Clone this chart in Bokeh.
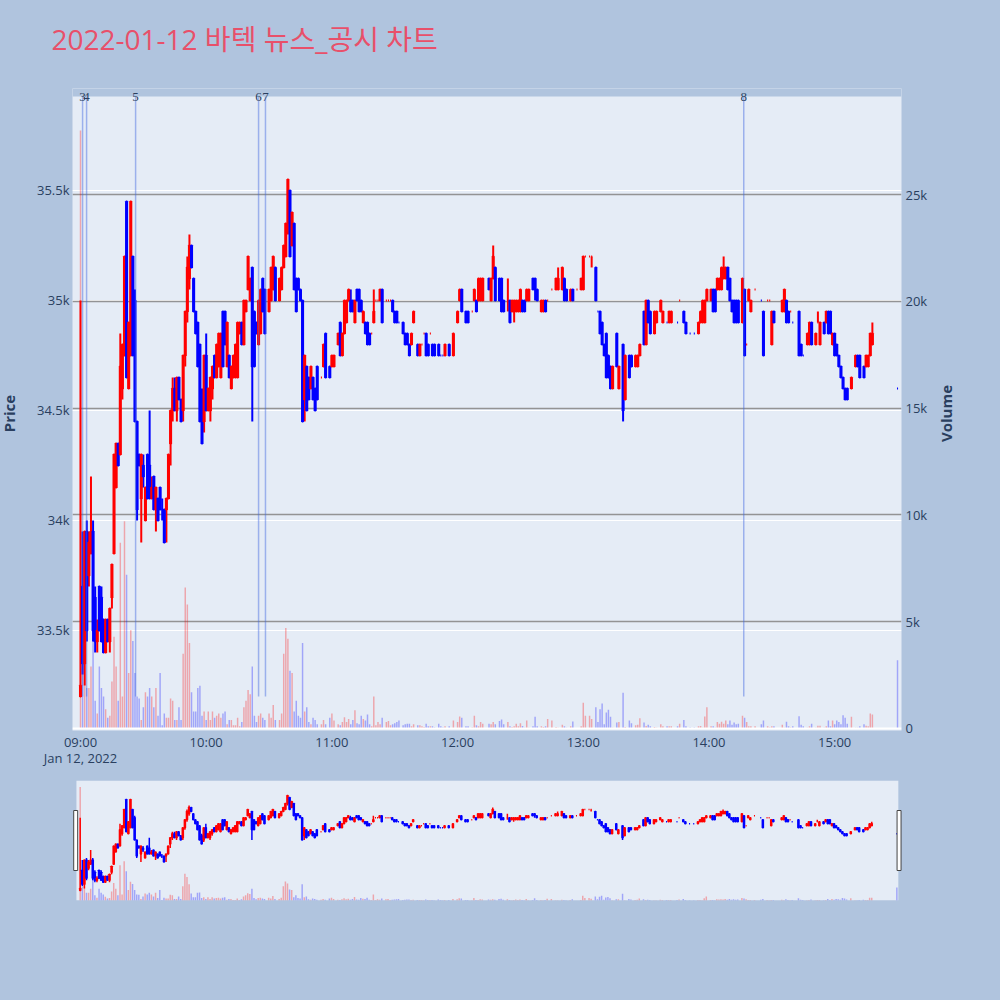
import math
from bokeh.plotting import figure
from bokeh.models import (ColumnDataSource, Range1d, LinearAxis, FixedTicker, LabelSet, Grid,
                          Span, BoxAnnotation)
from bokeh.layouts import column, row
from bokeh.embed import file_html
from bokeh.resources import INLINE
from bokeh.core.properties import value

TITLE = "2022-01-12 바텍 뉴스_공시 차트"

# minutes after 09:00
minute = [0,1,2,3,4,5,6,7,8,9,
 10,11,12,13,14,15,16,17,18,19,
 20,21,22,23,24,25,26,27,28,29,
 30,31,32,33,34,35,36,37,38,39,
 40,41,42,43,44,45,46,47,48,49,
 50,51,52,53,54,55,56,57,58,59,
 60,61,62,63,64,65,66,67,68,69,
 70,71,72,73,74,75,76,77,78,79,
 80,81,82,83,84,85,86,87,88,90,
 91,92,93,95,96,97,98,99,100,101,
 102,103,104,105,106,107,108,109,110,111,
 112,113,115,116,117,119,120,121,123,124,
 125,126,127,128,129,130,131,132,133,134,
 135,136,137,138,139,140,141,142,143,144,
 146,147,148,149,150,151,152,154,155,156,
 157,158,159,161,162,163,164,165,166,167,
 168,169,171,172,173,174,176,178,180,181,
 182,184,185,187,188,189,190,191,192,195,
 196,197,198,200,201,202,204,205,206,207,
 208,209,210,211,212,213,214,216,217,218,
 220,221,222,223,225,227,228,230,231,232,
 234,235,237,239,240,241,243,244,246,247,
 248,249,250,251,252,253,254,256,257,259,
 260,262,263,265,266,267,269,270,271,272,
 274,275,277,278,280,281,282,285,286,288,
 289,291,293,295,296,297,298,299,301,302,
 303,304,305,306,307,308,309,310,311,312,
 313,314,316,317,318,319,320,322,325,326,
 328,329,330,331,335,336,337,338,339,340,
 343,344,345,347,348,349,351,352,353,355,
 356,357,358,359,360,361,362,363,364,365,
 366,368,370,371,372,374,375,376,377,378,
 390]

open_ = [33200,33700,33350,33950,33750,33850,33950,33650,33450,33700,
 33650,33550,33400,33550,33450,33650,33850,34150,34350,34300,
 34600,34750,35450,34600,34750,35200,35000,34450,34300,34100,
 34250,34000,34300,34250,34100,34200,34050,34100,34150,34050,
 34050,34050,34100,34350,34500,34600,34500,34650,34550,34500,
 34750,34950,35100,35250,35100,34950,34900,34800,34550,34450,
 34750,34500,34500,34600,34750,34650,34700,34650,34950,34950,
 34700,34750,34600,34650,34650,34650,34850,34900,34800,34950,
 35050,35000,35150,34950,34900,34800,34850,35100,35050,34950,
 35000,35050,35150,35000,35050,35150,35200,35350,35500,35250,
 35350,35100,35100,35050,35000,34550,34700,34650,34600,34650,
 34600,34700,34650,34700,34850,34700,34700,34700,34800,34900,
 34750,34850,34900,35000,35000,35000,34900,35050,35050,35000,
 34900,34900,34900,34850,34850,34900,35000,35000,35000,35050,
 35000,35000,35000,35000,34950,34950,34900,34900,34850,34850,
 34800,34800,34900,34800,34750,34800,34850,34850,34800,34850,
 34800,34800,34800,34750,34750,34750,34800,34750,34900,35000,
 35050,34950,34950,34950,35000,35000,35000,35000,35000,35100,
 35000,35100,35150,35100,35100,35000,35000,35000,34950,34950,
 34950,34950,34950,35000,35000,35000,35000,35100,35100,35050,
 34950,34950,35000,35000,35050,35050,35050,35050,35100,35050,
 35000,35050,35050,35050,35050,35200,35200,35200,35150,34950,
 34950,34900,34800,34850,34750,34700,34600,34850,34600,34800,
 34550,34750,34750,34700,34700,34750,34950,34800,35000,34950,
 34850,34900,34950,34900,34900,34900,34900,34900,35000,34950,
 34900,34850,34850,34850,34900,34900,34900,35000,35000,35050,
 35050,35050,35050,35050,35100,35100,35150,35100,35000,35000,
 35000,35000,34900,35050,34800,35000,34950,35050,35000,34950,
 35000,35000,34800,34950,34950,34950,35000,34950,34950,34900,
 34950,34800,34750,34800,34800,34900,34800,34900,34800,34900,
 34900,34950,34950,34800,34850,34800,34750,34700,34650,34600,
 34600,34600,34700,34750,34750,34700,34700,34700,34750,34800,
 34600]

high = [35000,33950,33950,34000,33950,34200,34000,33700,33550,33700,
 33700,33550,33550,33550,33600,33800,34300,34350,34350,34850,
 34800,35200,35450,34900,35450,35200,35050,34450,34300,34300,
 34300,34150,34300,34500,34200,34200,34150,34100,34150,34100,
 34050,34100,34300,34500,34650,34650,34650,34650,34550,34750,
 34950,35200,35300,35250,35100,34950,34900,34800,34600,34750,
 34850,34600,34650,34700,34750,34800,34850,34850,34950,34950,
 34900,34750,34700,34750,34800,34900,34900,34900,35000,35000,
 35200,35100,35150,34950,34900,35000,35050,35100,35050,35050,
 35150,35200,35150,35100,35150,35250,35350,35550,35500,35400,
 35350,35100,35100,35050,35000,34750,34700,34650,34700,34650,
 34600,34700,34650,34800,34850,34700,34750,34750,34850,34900,
 34850,35000,35000,35050,35050,35000,35000,35050,35050,35000,
 34950,34900,34900,34850,34850,35050,35000,35000,35050,35050,
 35000,35000,35000,35000,34950,34950,34900,34900,34850,34850,
 34800,34850,34950,34800,34800,34800,34850,34850,34800,34850,
 34800,34800,34800,34750,34750,34800,34800,34850,34950,35050,
 35050,34950,34950,34950,35050,35000,35100,35100,35100,35100,
 35100,35250,35150,35100,35100,35000,35100,35000,35000,35000,
 35000,35000,35050,35000,35000,35050,35050,35100,35100,35050,
 35000,35000,35000,35000,35050,35100,35150,35150,35100,35050,
 35050,35050,35050,35100,35200,35200,35200,35200,35150,34950,
 34950,34900,34800,34850,34750,34700,34700,34850,34700,34800,
 34750,34750,34750,34750,34750,34800,34950,35000,35000,34950,
 34950,34950,35000,34950,34900,34950,34950,34900,35000,34950,
 34900,34850,34850,34900,34950,35000,35000,35050,35050,35050,
 35050,35100,35100,35150,35200,35150,35150,35100,35000,35000,
 35000,35000,35100,35050,34800,35050,35000,35050,35000,34950,
 35000,35000,34950,34950,35000,35050,35000,34950,34950,34900,
 34950,34800,34750,34850,34900,34900,34850,34950,34900,34900,
 34950,34950,34950,34850,34850,34800,34750,34700,34650,34600,
 34600,34650,34750,34750,34750,34700,34750,34750,34850,34900,
 34600]

low = [33200,33300,33250,33450,33700,33850,33450,33400,33400,33500,
 33450,33400,33400,33450,33400,33600,33850,34150,34250,34300,
 34550,34750,34650,34600,34750,34750,34450,34000,34250,33900,
 34150,34000,34100,34100,34100,34050,33950,34000,34050,34000,
 33900,33900,34100,34250,34450,34500,34450,34550,34450,34450,
 34700,34900,35050,35150,34950,34850,34700,34450,34350,34400,
 34500,34500,34450,34550,34650,34650,34700,34650,34700,34800,
 34700,34650,34600,34650,34650,34650,34850,34800,34800,34950,
 35050,35000,34450,34700,34850,34800,34850,34950,34850,34950,
 35000,35050,35000,35000,35050,35150,35200,35300,35200,35250,
 35050,34950,35050,35000,34450,34450,34500,34550,34600,34550,
 34500,34550,34650,34700,34650,34650,34700,34700,34800,34750,
 34750,34850,34900,35000,34950,34950,34900,35000,34950,34950,
 34900,34850,34800,34800,34850,34900,35000,35000,35000,34900,
 35000,35000,35000,34950,34900,34900,34900,34850,34800,34800,
 34750,34800,34900,34750,34750,34800,34850,34750,34750,34850,
 34750,34750,34750,34750,34750,34750,34750,34750,34900,35000,
 34950,34900,34900,34950,35000,34950,35000,35000,35000,35050,
 35000,35100,35000,35000,34950,34950,34950,34900,34950,34900,
 34950,34950,34950,34950,34950,35000,35000,35050,35000,35000,
 34950,34950,34950,35000,35050,35050,35050,35050,35000,35000,
 35000,35000,35050,35050,35050,35200,35200,35150,35000,34950,
 34850,34800,34750,34650,34650,34600,34600,34700,34600,34450,
 34550,34650,34700,34700,34700,34750,34800,34800,34900,34850,
 34850,34900,34950,34900,34900,34900,34900,34900,35000,34900,
 34850,34850,34850,34850,34900,34900,34900,35000,35000,34950,
 34950,35050,35050,35050,35100,35100,35050,35000,34950,34900,
 34900,34900,34900,34750,34800,35000,34950,35050,35000,34750,
 35000,35000,34800,34900,34950,34950,34900,34900,34950,34900,
 34750,34750,34750,34800,34800,34800,34800,34900,34800,34850,
 34900,34850,34850,34800,34750,34750,34700,34650,34600,34550,
 34550,34600,34700,34700,34650,34650,34700,34700,34750,34800,
 34600]

close = [33250,33350,33950,33500,33900,33950,33500,33450,33500,33500,
 33450,33400,33550,33450,33600,33800,34300,34350,34250,34700,
 34800,35200,34650,34900,35450,34750,34450,34050,34250,34300,
 34200,34150,34100,34100,34150,34050,34150,34000,34050,34050,
 33900,34100,34300,34500,34600,34500,34650,34550,34450,34750,
 34950,35150,35250,35150,34950,34850,34700,34450,34350,34750,
 34500,34600,34650,34700,34650,34800,34850,34850,34700,34800,
 34900,34650,34700,34750,34800,34900,34900,34800,35000,35000,
 35200,35100,34700,34700,34850,35000,35050,34950,34850,35050,
 35150,35200,35000,35100,35150,35250,35350,35550,35200,35400,
 35050,34950,35050,35000,34450,34750,34500,34550,34700,34550,
 34500,34550,34650,34800,34650,34650,34750,34750,34850,34750,
 34850,35000,35000,35050,34950,34950,35000,35000,34950,34950,
 34950,34850,34800,34800,34850,34950,35000,35000,35050,34900,
 35000,35000,35000,34950,34900,34900,34900,34850,34800,34800,
 34750,34850,34950,34750,34800,34800,34850,34750,34750,34850,
 34750,34750,34750,34750,34750,34800,34750,34850,34950,35050,
 34950,34900,34900,34950,35050,34950,35100,35100,35100,35050,
 35100,35200,35000,35000,34950,34950,35000,34900,35000,35000,
 35000,35000,35050,34950,34950,35050,35050,35050,35050,35000,
 35000,35000,34950,35000,35050,35100,35100,35150,35000,35000,
 35050,35000,35050,35100,35200,35200,35200,35200,35000,34950,
 34850,34800,34750,34650,34650,34600,34700,34700,34700,34500,
 34750,34650,34700,34750,34750,34800,34800,35000,34900,34850,
 34950,34950,35000,34950,34900,34950,34950,34900,35000,34900,
 34850,34850,34850,34900,34950,35000,35000,35050,35050,34950,
 34950,35100,35100,35150,35150,35150,35050,35000,34950,34900,
 34900,34900,35100,34750,34800,35050,35000,35050,35000,34750,
 35000,35000,34950,34900,35000,35050,34900,34900,34950,34900,
 34750,34750,34750,34850,34900,34800,34850,34900,34900,34850,
 34950,34850,34850,34850,34750,34750,34700,34650,34600,34550,
 34550,34650,34750,34700,34650,34650,34750,34750,34850,34850,
 34600]

# traded volume, thousands of shares
volume_k = [28.0,3.3,5.8,1.9,1.9,2.9,5.1,1.3,0.7,2.9,
 1.9,1.5,0.9,0.5,0.6,2.2,4.3,2.9,1.3,8.7,
 1.5,9.7,7.2,2.6,4.6,4.1,2.6,1.5,1.4,0.4,
 1.0,1.7,1.5,1.9,1.5,1.0,1.9,0.6,2.6,0.15,
 0.7,0.5,0.5,1.4,1.3,0.4,0.4,1.0,0.4,3.5,
 6.6,5.8,4.0,1.7,0.8,0.8,1.9,2.0,0.6,0.8,
 0.4,0.8,0.4,0.8,0.5,0.6,0.7,0.5,0.7,0.8,
 0.2,0.4,0.4,0.15,0.15,0.5,0.1,0.3,1.0,1.3,
 1.8,1.6,2.9,0.6,0.3,0.6,0.7,0.5,0.4,0.7,
 0.5,1.1,0.4,0.4,0.7,3.5,4.7,4.2,2.7,2.6,
 0.8,1.3,0.6,0.5,4.0,0.8,1.0,0.3,0.2,0.5,
 0.4,0.2,0.2,0.4,0.2,0.5,0.7,0.37,0.2,0.15,
 0.3,0.53,0.3,0.45,0.2,0.4,0.85,0.25,0.2,0.6,
 0.45,0.37,0.65,0.2,0.1,1.5,0.15,0.3,0.2,0.5,
 0.3,0.35,0.15,0.2,0.25,0.3,0.37,0.15,0.2,0.22,
 0.22,0.1,0.2,0.15,0.15,0.1,0.07,0.22,0.1,0.1,
 0.1,0.05,0.22,0.1,0.05,0.1,0.1,0.37,0.3,0.56,
 0.5,0.1,0.1,0.05,0.6,0.15,0.1,0.3,0.22,0.22,
 0.2,0.3,0.2,0.35,0.42,0.2,0.3,0.1,0.07,0.1,
 0.22,0.1,0.25,0.12,0.04,0.37,0.04,0.1,0.55,0.1,
 0.1,0.07,0.1,0.45,0.37,0.07,0.04,0.18,0.1,0.04,
 0.1,0.33,0.02,0.1,1.2,0.6,0.6,0.45,1.0,0.3,
 0.9,1.17,0.2,0.75,0.88,0.55,0.04,0.28,0.3,1.67,
 0.07,0.37,0.25,0.15,0.18,0.48,0.28,0.12,0.18,0.1,
 0.07,0.04,0.2,0.1,0.1,0.1,0.1,0.1,0.22,0.4,
 0.1,0.05,0.05,0.1,0.12,0.04,0.56,1.0,0.1,0.1,
 0.04,0.3,0.22,0.32,0.22,0.37,0.2,0.37,0.18,0.28,
 0.2,0.22,0.6,0.5,0.3,0.1,0.1,0.1,0.2,0.37,
 0.1,0.05,0.1,0.1,0.17,0.04,0.32,0.1,0.05,0.1,
 0.57,0.18,0.1,0.04,0.1,0.22,0.04,0.13,0.13,0.04,
 0.1,0.37,0.1,0.37,0.2,0.37,0.3,0.2,0.62,0.5,
 0.22,0.55,0.04,0.04,0.1,0.2,0.13,0.1,0.7,0.65,
 3.2]

# news / disclosure markers
news_minute = [1.0, 2.9, 26.3, 85.0, 88.3, 316.6]
news_label = ["3", "4", "5", "6", "7", "8"]

time_ticks = [0, 60, 120, 180, 240, 300, 360]
time_labels = ["09:00", "10:00", "11:00", "12:00", "13:00", "14:00", "15:00"]
date_label = "Jan 12, 2022"
price_ticks = [33500, 34000, 34500, 35000, 35500]
price_labels = ["33.5k", "34k", "34.5k", "35k", "35.5k"]
vol_ticks = [0, 5, 10, 15, 20, 25]
vol_labels = ["0", "5k", "10k", "15k", "20k", "25k"]

INC, DEC = "#ff0000", "#0000ff"
BG, PAGE = "#e5ecf6", "#b0c4de"
TXT = "#2a3f5f"
FONT = "'Open Sans', 'Noto Sans CJK KR', sans-serif"

# plotly rule: equal open/close takes direction from previous close
inc = []
up, prev = True, None
for o, c in zip(open_, close):
    if c != o:
        up = c > o
    elif prev is not None and c != prev:
        up = c > prev
    inc.append(up)
    prev = c
colors = [INC if u else DEC for u in inc]

src = ColumnDataSource(dict(
    m=minute, o=open_, h=high, l=low, c=close,
    top=[max(a, b) for a, b in zip(open_, close)],
    bot=[min(a, b) for a, b in zip(open_, close)],
    v=volume_k, color=colors))


def blank(fig):
    fig.axis.visible = False
    fig.grid.visible = False
    return fig


NOBORDER = dict(min_border_left=0, min_border_right=0, min_border_top=0, min_border_bottom=0)
PAGE_W = 1000

# ---- header with the title (frame spans the full page width)
header = blank(figure(frame_width=PAGE_W, frame_height=88, x_range=Range1d(0, PAGE_W),
                      y_range=Range1d(0, 88), output_backend="svg", toolbar_location=None,
                      title=None, background_fill_color=PAGE, border_fill_color=PAGE,
                      outline_line_color=None, **NOBORDER))
header.text(x=[51], y=[50], text=[TITLE], text_align="left", text_baseline="middle",
            text_font=value(FONT), text_font_size="28px", text_color="#e8506a")

# ---- main chart: visible price span, plus a thin strip above it for the marker labels
y_lo, y_top = 33045, 35927
y_hi = 35963.6
FRAME_H, BOTTOM = 642, 50
p = figure(frame_width=829, frame_height=FRAME_H,
           x_range=Range1d(-3.82, 391.9), y_range=Range1d(y_lo, y_hi),
           output_backend="svg", toolbar_location=None, title=None,
           min_border_left=42, min_border_right=30, min_border_top=0, min_border_bottom=BOTTOM,
           background_fill_color=BG, border_fill_color=PAGE, outline_line_color=None)
p.extra_y_ranges = {"vol": Range1d(-0.094, 29.963)}

p.add_layout(BoxAnnotation(bottom=y_top, fill_color=PAGE, fill_alpha=1.0,
                           line_color=None, level="underlay"))

p.xgrid.visible = False
p.ygrid.ticker = FixedTicker(ticks=price_ticks)
p.ygrid.grid_line_color = "white"
p.ygrid.grid_line_width = 1
vol_grid = Grid(dimension=1, y_range_name="vol", ticker=FixedTicker(ticks=vol_ticks[1:]),
                grid_line_color="#8a8a8a", grid_line_width=1.5, grid_line_alpha=0.9)
p.add_layout(vol_grid)
p.add_layout(Span(location=0, dimension="width", y_range_name="vol",
                  line_color="white", line_width=2))

p.xaxis.ticker = FixedTicker(ticks=time_ticks)
p.xaxis.major_label_overrides = dict(zip(time_ticks, time_labels))
date_axis = LinearAxis(ticker=FixedTicker(ticks=[0]), major_label_overrides={0: date_label})
p.add_layout(date_axis, "below")
p.yaxis.ticker = FixedTicker(ticks=price_ticks)
p.yaxis.major_label_overrides = dict(zip(price_ticks, price_labels))
vol_axis = LinearAxis(y_range_name="vol", ticker=FixedTicker(ticks=vol_ticks),
                      major_label_overrides=dict(zip(vol_ticks, vol_labels)))
p.add_layout(vol_axis, "right")
for ax in [p.xaxis[0], date_axis, p.yaxis[0], vol_axis]:
    ax.axis_line_color = None
    ax.major_tick_line_color = None
    ax.minor_tick_line_color = None
    ax.major_tick_out = 0
    ax.major_tick_in = 0
    ax.minor_tick_out = 0
    ax.major_label_text_color = TXT
    ax.major_label_text_font = FONT
    ax.major_label_text_font_size = "13px"
p.xaxis[0].major_label_standoff = 2
date_axis.major_label_standoff = -5
p.yaxis[0].major_label_standoff = 3
vol_axis.major_label_standoff = 4

p.vbar(x="m", width=0.7, top="v", bottom=0, y_range_name="vol", source=src,
       fill_color="color", fill_alpha=0.3, line_color=None)
p.segment(x0="m", y0="l", x1="m", y1="h", source=src, line_color="color", line_width=2)
p.vbar(x="m", width=0.5, top="top", bottom="bot", source=src,
       fill_color="color", line_color="color", line_width=2)

nsrc = ColumnDataSource(dict(t=news_minute, label=news_label,
                             y0=[min(low)] * len(news_minute), y1=[y_top] * len(news_minute)))
p.segment(x0="t", y0="y0", x1="t", y1="y1", source=nsrc,
          line_color="royalblue", line_alpha=0.45, line_width=1.5)
p.add_layout(LabelSet(x="t", y="y1", text="label", source=nsrc, text_align="center",
                      text_baseline="middle", text_font=FONT, text_font_size="13px",
                      text_color=TXT))

# ---- axis titles, in side strips sharing the price scale
y_mid = (y_lo + y_top) / 2


def side_strip(w, x, label):
    f = blank(figure(frame_width=w, frame_height=FRAME_H, x_range=Range1d(0, w),
                     y_range=p.y_range, output_backend="svg", toolbar_location=None,
                     title=None, min_border_left=0, min_border_right=0, min_border_top=0,
                     min_border_bottom=BOTTOM, background_fill_color=PAGE,
                     border_fill_color=PAGE, outline_line_color=None))
    f.text(x=[x], y=[y_mid], text=[label], angle=math.pi / 2, text_align="center",
           text_baseline="middle", text_font=value(FONT), text_font_size="15px",
           text_font_style="bold", text_color=TXT)
    return f


left_strip = side_strip(30, 8, "Price")
right_strip = side_strip(69, 14, "Volume")

# ---- range-slider style overview (frame spans the full page width)
px_per_min = 2.094
x_first = 79.7            # page x of 09:00 in the overview
sx0 = -x_first / px_per_min
sx1 = (PAGE_W - x_first) / px_per_min
s_lo, s_hi = 32950, 35920
s = blank(figure(frame_width=PAGE_W, frame_height=120, x_range=Range1d(sx0, sx1),
                 y_range=Range1d(s_lo, s_hi), output_backend="svg", toolbar_location=None,
                 title=None, min_border_left=0, min_border_right=0, min_border_top=0,
                 min_border_bottom=10, background_fill_color=PAGE, border_fill_color=PAGE,
                 outline_line_color=None))
s.extra_y_ranges = {"vol": Range1d(0, 29.6)}
bg_l, bg_r = -1.8, 390.7
s.quad(left=[bg_l], right=[bg_r], bottom=[s_lo], top=[s_hi], fill_color=BG, line_color=None)
s.vbar(x="m", width=0.7, top="v", bottom=0, y_range_name="vol", source=src,
       fill_color="color", fill_alpha=0.3, line_color=None)
s.segment(x0="m", y0="l", x1="m", y1="h", source=src, line_color="color", line_width=1.5)
s.vbar(x="m", width=0.5, top="top", bottom="bot", source=src,
       fill_color="color", line_color="color", line_width=1.5)
hh = (s_hi - s_lo) * 0.25
s.quad(left=[bg_l - 1.3, bg_r - 0.6], right=[bg_l + 0.6, bg_r + 1.3],
       bottom=[s_lo + hh] * 2, top=[s_hi - hh] * 2,
       fill_color="white", line_color="#444444", line_width=1)

layout = column(header, row(left_strip, p, right_strip, spacing=0), s, spacing=0)
html = file_html(layout, INLINE, title=TITLE)
k = html.rfind("</head>")
html = html[:k] + "<style>html, body {background-color: #b0c4de;}</style>\n" + html[k:]
open("out.html", "w").write(html)
